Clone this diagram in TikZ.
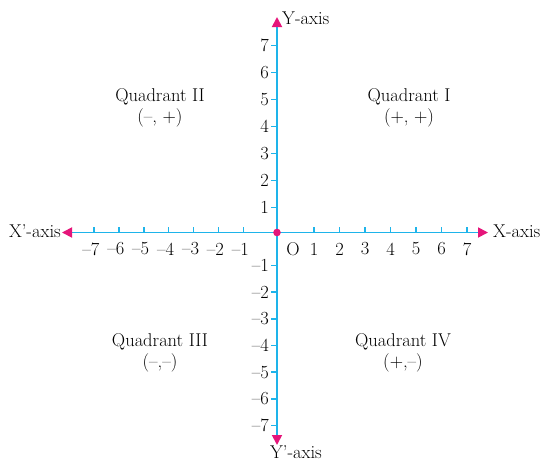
\documentclass[tikz,border=0pt]{standalone}
\usetikzlibrary{arrows.meta}
\definecolor{axcyan}{HTML}{1EB4EA}
\definecolor{axmag}{HTML}{E5157A}
\begin{document}
\begin{tikzpicture}[x=1pt,y=-1pt,
  axis/.style={draw=axcyan,line width=1.8pt},
  tick/.style={draw=axcyan,line width=1.6pt},
  lbl/.style={inner sep=0pt,font=\fontsize{18.5}{21}\selectfont},
  quad/.style={inner sep=0pt,align=center,font=\fontsize{18.5}{21}\selectfont}]
\useasboundingbox (0,0) rectangle (541,461);
\coordinate (O) at (277,232.5);
\coordinate (xl) at (62,232.5);
\coordinate (xr) at (488,232.5);
\coordinate (yt) at (277,17);
\coordinate (yb) at (277,445);
\draw[axis,{Triangle[color=axmag,length=10pt,width=10pt]}-{Triangle[color=axmag,length=10pt,width=10pt]}] (xl) -- (xr);
\draw[axis,{Triangle[color=axmag,length=10pt,width=10pt]}-{Triangle[color=axmag,length=10pt,width=10pt]}] (yt) -- (yb);
% x ticks
\foreach \k in {1,...,7}{
  \pgfmathsetmacro{\xp}{314+25.5*(\k-1)}
  \draw[tick] (\xp,232.5) -- (\xp,226.5);
  \node[lbl] (xp\k) at (\xp,249) {\k};
  \pgfmathsetmacro{\xn}{243.3-24.9*(\k-1)}
  \draw[tick] (\xn,232.5) -- (\xn,226.5);
  \node[lbl] (xn\k) at (\xn-3,249) {–\k};
}
% y ticks
\foreach \k in {1,...,7}{
  \pgfmathsetmacro{\yp}{207.3-27*(\k-1)}
  \draw[tick] (277,\yp) -- (271,\yp);
  \node[lbl,anchor=east] (yp\k) at (269,\yp) {\k};
  \pgfmathsetmacro{\yn}{265.3+26.7*(\k-1)}
  \draw[tick] (277,\yn) -- (271,\yn);
  \node[lbl,anchor=east] (yn\k) at (269,\yn) {–\k};
}
\fill[axmag] (O) circle (3.8);
\node[lbl] (o) at (293,249) {O};
\node[lbl,anchor=west] (ylab) at (282,18) {Y-axis};
\node[lbl] (yblab) at (296,452) {Y’-axis};
\node[lbl,anchor=east] (xllab) at (61,231) {X’-axis};
\node[lbl,anchor=west] (xrlab) at (493,231) {X-axis};
\node[quad] (q2) at (160,108) {Quadrant II\\(–, +)};
\node[quad] (q1) at (409,108) {Quadrant I\\(+, +)};
\node[quad] (q3) at (160,353) {Quadrant III\\(–,–)};
\node[quad] (q4) at (403,353) {Quadrant IV\\(+,–)};
\end{tikzpicture}
\end{document}
